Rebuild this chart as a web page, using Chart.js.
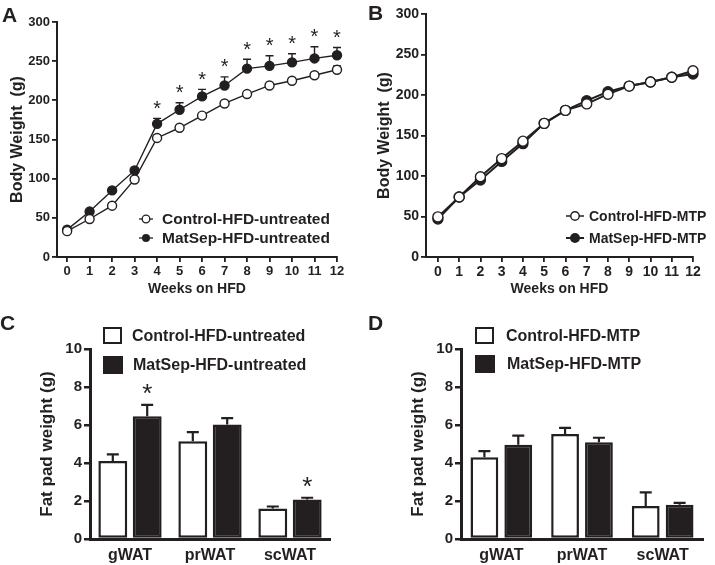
<!DOCTYPE html>
<html>
<head>
<meta charset="utf-8">
<script src="https://cdn.jsdelivr.net/npm/chart.js@4.4.0/dist/chart.umd.min.js"></script>
<style>
  body { margin: 0; background: #fff; }
  #wrap { position: relative; width: 715px; height: 565px; background: #fff; overflow: hidden;
          font-family: "Liberation Sans", Arial, sans-serif; font-weight: bold; color: #231f20; }
  canvas { position: absolute; }
  .lab { position: absolute; font-size: 21px; line-height: 21px; }
  .leg { position: absolute; display: flex; align-items: center; white-space: nowrap; line-height: 1; }
  .leg svg { display: block; }
</style>
</head>
<body>
<div id="wrap">
  <canvas id="cA" width="357" height="300" style="left:0;top:0"></canvas>
  <canvas id="cB" width="358" height="300" style="left:357px;top:0"></canvas>
  <canvas id="cC" width="357" height="265" style="left:0;top:300px"></canvas>
  <canvas id="cD" width="358" height="265" style="left:357px;top:300px"></canvas>

  <div class="lab" style="left:2px;top:4px">A</div>
  <div class="lab" style="left:368px;top:2px">B</div>
  <div class="lab" style="left:0;top:312px">C</div>
  <div class="lab" style="left:368px;top:312px">D</div>

  <div class="leg" style="left:139px;top:210px;font-size:15.5px">
    <svg width="14" height="18"><line x1="0" y1="9" x2="14" y2="9" stroke="#231f20" stroke-width="1.3"/><circle cx="7" cy="9" r="3.8" fill="#fff" stroke="#231f20" stroke-width="1.3"/></svg>
    <span style="margin-left:9px">Control-HFD-untreated</span>
  </div>
  <div class="leg" style="left:139px;top:229px;font-size:15.5px">
    <svg width="14" height="18"><line x1="0" y1="9" x2="14" y2="9" stroke="#231f20" stroke-width="1.3"/><circle cx="7" cy="9" r="4" fill="#231f20"/></svg>
    <span style="margin-left:9px">MatSep-HFD-untreated</span>
  </div>

  <div class="leg" style="left:566px;top:207px;font-size:14px">
    <svg width="18" height="18"><line x1="0" y1="9" x2="18" y2="9" stroke="#231f20" stroke-width="1.5"/><circle cx="9" cy="9" r="4.2" fill="#fff" stroke="#231f20" stroke-width="1.4"/></svg>
    <span style="margin-left:5px">Control-HFD-MTP</span>
  </div>
  <div class="leg" style="left:566px;top:229px;font-size:14px">
    <svg width="18" height="18"><line x1="0" y1="9" x2="18" y2="9" stroke="#231f20" stroke-width="2"/><circle cx="9" cy="9" r="5" fill="#231f20"/></svg>
    <span style="margin-left:5px">MatSep-HFD-MTP</span>
  </div>

  <div class="leg" style="left:103px;top:327px;font-size:16px">
    <div style="width:15px;height:13px;border:2.5px solid #231f20;background:#fff"></div>
    <span style="margin-left:10px">Control-HFD-untreated</span>
  </div>
  <div class="leg" style="left:103px;top:356px;font-size:16px">
    <div style="width:20px;height:18px;background:#231f20"></div>
    <span style="margin-left:10px">MatSep-HFD-untreated</span>
  </div>

  <div class="leg" style="left:475px;top:327px;font-size:16px">
    <div style="width:15px;height:13px;border:2.5px solid #231f20;background:#fff"></div>
    <span style="margin-left:12px">Control-HFD-MTP</span>
  </div>
  <div class="leg" style="left:475px;top:355px;font-size:16px">
    <div style="width:20px;height:18px;background:#231f20"></div>
    <span style="margin-left:12px">MatSep-HFD-MTP</span>
  </div>
</div>

<script>
// body weight, weeks on HFD
const weeks = [0, 1, 2, 3, 4, 5, 6, 7, 8, 9, 10, 11, 12];

const ctrlUntreated = [33, 48.5, 65.5, 99, 152, 165, 180.5, 196, 208, 219, 225, 232, 239];
const ctrlUntreatedErr = [1.5, 2, 2.5, 3, 2, 2, 2, 2, 2, 2, 2.5, 2.5, 5];
const matUntreated = [35, 58, 85, 110.5, 170, 188, 205, 219, 240.5, 244, 248.5, 253.5, 257.5];
const matUntreatedErr = [1.5, 2, 2, 3, 7, 9, 9, 11, 12, 13, 11, 15, 10];
const matUntreatedSig = [0, 0, 0, 0, 1, 1, 1, 1, 1, 1, 1, 1, 1];

const ctrlMTP = [49.5, 74, 99, 121.5, 143, 165, 181, 189, 201, 211, 216, 222, 230];
const ctrlMTPErr = [2, 2, 2, 2, 2, 2, 2, 2, 2, 2, 2, 2, 3];
const matMTP = [47, 74, 95, 118, 140, 165, 181, 193, 204, 211, 216, 222, 226];
const matMTPErr = [2, 2, 2, 2, 2, 2, 2, 2, 2, 2, 2, 2, 2];

// fat pads
const fatPads = ["gWAT", "prWAT", "scWAT"];
const ctrlFatUntreated = [4.1, 5.15, 1.6];
const ctrlFatUntreatedErr = [0.35, 0.48, 0.11];
const matFatUntreated = [6.46, 6.02, 2.08];
const matFatUntreatedErr = [0.6, 0.34, 0.09];
const matFatUntreatedSig = [1, 0, 1];

const ctrlFatMTP = [4.3, 5.53, 1.74];
const ctrlFatMTPErr = [0.33, 0.32, 0.71];
const matFatMTP = [4.96, 5.09, 1.8];
const matFatMTPErr = [0.48, 0.24, 0.1];

const INK = "#231f20";
const FONT = "'Liberation Sans', Arial, sans-serif";
Chart.defaults.font.family = FONT;
Chart.defaults.color = INK;

// upward error bars (+ optional asterisks) drawn from each point through the y scale
function errorBars(errs, sigs, opt) {
  function draw(chart) {
    const ctx = chart.ctx;
    const y = chart.scales.y;
    ctx.save();
    ctx.strokeStyle = INK;
    ctx.fillStyle = INK;
    ctx.lineWidth = opt.width;
    chart.data.datasets.forEach((ds, i) => {
      const meta = chart.getDatasetMeta(i);
      meta.data.forEach((el, j) => {
        const d = ds.data[j];
        const v = typeof d === "object" ? d.y : d;
        const top = y.getPixelForValue(v + errs[i][j]);
        ctx.beginPath();
        ctx.moveTo(el.x, el.y);
        ctx.lineTo(el.x, top);
        ctx.moveTo(el.x - opt.cap / 2, top);
        ctx.lineTo(el.x + opt.cap / 2, top);
        ctx.stroke();
        if (sigs[i] && sigs[i][j]) {
          ctx.font = opt.starSize + "px " + FONT;
          ctx.textAlign = "center";
          ctx.textBaseline = "alphabetic";
          ctx.fillText("*", el.x, top - opt.starGap + 0.57 * opt.starSize);
        }
      });
    });
    ctx.restore();
  }
  return {
    id: "errorBars",
    beforeDatasetsDraw(chart) { if (opt.under) draw(chart); },
    afterDatasetsDraw(chart) { if (!opt.under) draw(chart); }
  };
}

function lineChart(id, ctrl, mat, errs, sigs, s) {
  const pts = arr => weeks.map((w, i) => ({ x: w, y: arr[i] }));
  new Chart(document.getElementById(id), {
    type: "line",
    data: {
      datasets: [
        { label: s.labels[0], data: pts(ctrl), borderColor: INK, borderWidth: s.lw, clip: false,
          pointRadius: s.r, pointBackgroundColor: "#fff", pointBorderColor: INK, pointBorderWidth: 1.4 },
        { label: s.labels[1], data: pts(mat), borderColor: INK, borderWidth: s.lw, clip: false,
          pointRadius: s.r, pointBackgroundColor: INK, pointBorderColor: INK, pointBorderWidth: 1.4 }
      ]
    },
    options: {
      responsive: false,
      animation: false,
      layout: { padding: s.pad },
      plugins: { legend: { display: false }, tooltip: { enabled: false } },
      scales: {
        x: {
          type: "linear", min: s.xmin, max: 12,
          afterBuildTicks: sc => { sc.ticks = weeks.map(v => ({ value: v })); },
          afterFit: sc => { sc.height = 43; },
          grid: { drawOnChartArea: false, drawTicks: true, tickLength: 5, color: INK, lineWidth: 1.8 },
          border: { color: INK, width: 2 },
          ticks: { font: { size: s.tick, weight: "bold" }, color: INK, padding: 2, maxRotation: 0, autoSkip: false },
          title: { display: true, text: "Weeks on HFD", color: INK,
                   font: { size: 14, weight: "bold" }, padding: { top: 0, bottom: 2 } }
        },
        y: {
          min: 0, max: 300,
          afterBuildTicks: sc => { sc.ticks = [0, 50, 100, 150, 200, 250, 300].map(v => ({ value: v })); },
          afterFit: sc => { sc.width = s.yw; },
          grid: { drawOnChartArea: false, drawTicks: true, tickLength: 5, color: INK, lineWidth: 1.8 },
          border: { color: INK, width: 2 },
          ticks: { font: { size: s.tick, weight: "bold" }, color: INK, padding: 2 },
          title: { display: true, text: "Body Weight  (g)", color: INK,
                   font: { size: 16, weight: "bold" }, padding: { top: s.ytp, bottom: 0 } }
        }
      }
    },
    plugins: [errorBars(errs, sigs, { width: 1.4, cap: 8, starSize: 20, starGap: 15, under: true })]
  });
}

function barChart(id, ctrl, mat, errs, sigs, s) {
  new Chart(document.getElementById(id), {
    type: "bar",
    data: {
      labels: fatPads,
      datasets: [
        { label: s.labels[0], data: ctrl, backgroundColor: "#fff", borderColor: INK,
          borderWidth: 2.5, borderSkipped: false },
        { label: s.labels[1], data: mat, backgroundColor: INK, borderColor: INK,
          borderWidth: 2.5, borderSkipped: false }
      ]
    },
    options: {
      responsive: false,
      animation: false,
      categoryPercentage: s.cp,
      barPercentage: s.bp,
      layout: { padding: s.pad },
      plugins: { legend: { display: false }, tooltip: { enabled: false } },
      scales: {
        x: {
          afterFit: sc => { sc.height = 26; },
          grid: { display: false },
          border: { color: INK, width: 3 },
          ticks: { font: { size: 16, weight: "bold" }, color: INK, padding: -1 }
        },
        y: {
          min: 0, max: 10,
          afterBuildTicks: sc => { sc.ticks = [0, 2, 4, 6, 8, 10].map(v => ({ value: v })); },
          afterFit: sc => { sc.width = s.yw; },
          grid: { drawOnChartArea: false, drawTicks: true, tickLength: 6, color: INK, lineWidth: 2.5 },
          border: { color: INK, width: 3 },
          ticks: { font: { size: 15, weight: "bold" }, color: INK, padding: 2 },
          title: { display: true, text: "Fat pad weight (g)", color: INK,
                   font: { size: 17, weight: "bold" }, padding: { top: s.ytp, bottom: 0 } }
        }
      }
    },
    plugins: [errorBars(errs, sigs, { width: 2.2, cap: 12, starSize: 26, starGap: 18, under: false })]
  });
}

lineChart("cA", ctrlUntreated, matUntreated, [ctrlUntreatedErr, matUntreatedErr], [null, matUntreatedSig], {
  labels: ["Control-HFD-untreated", "MatSep-HFD-untreated"],
  pad: { left: 0, top: 22, right: 20, bottom: 0 }, xmin: -0.45, yw: 57, ytp: 8, tick: 13, lw: 1.4, r: 4.5
});
lineChart("cB", ctrlMTP, matMTP, [ctrlMTPErr, matMTPErr], [null, null], {
  labels: ["Control-HFD-MTP", "MatSep-HFD-MTP"],
  pad: { left: 0, top: 14, right: 22, bottom: 0 }, xmin: -0.56, yw: 69, ytp: 18, tick: 14, lw: 2, r: 5
});
barChart("cC", ctrlFatUntreated, matFatUntreated, [ctrlFatUntreatedErr, matFatUntreatedErr], [null, matFatUntreatedSig], {
  labels: ["Control-HFD-untreated", "MatSep-HFD-untreated"],
  pad: { left: 0, top: 49, right: 27, bottom: 0 }, yw: 90, ytp: 37, cp: 0.86, bp: 0.84
});
barChart("cD", ctrlFatMTP, matFatMTP, [ctrlFatMTPErr, matFatMTPErr], [null, null], {
  labels: ["Control-HFD-MTP", "MatSep-HFD-MTP"],
  pad: { left: 0, top: 49, right: 12, bottom: 0 }, yw: 104, ytp: 51, cp: 0.84, bp: 0.82
});
</script>
</body>
</html>
